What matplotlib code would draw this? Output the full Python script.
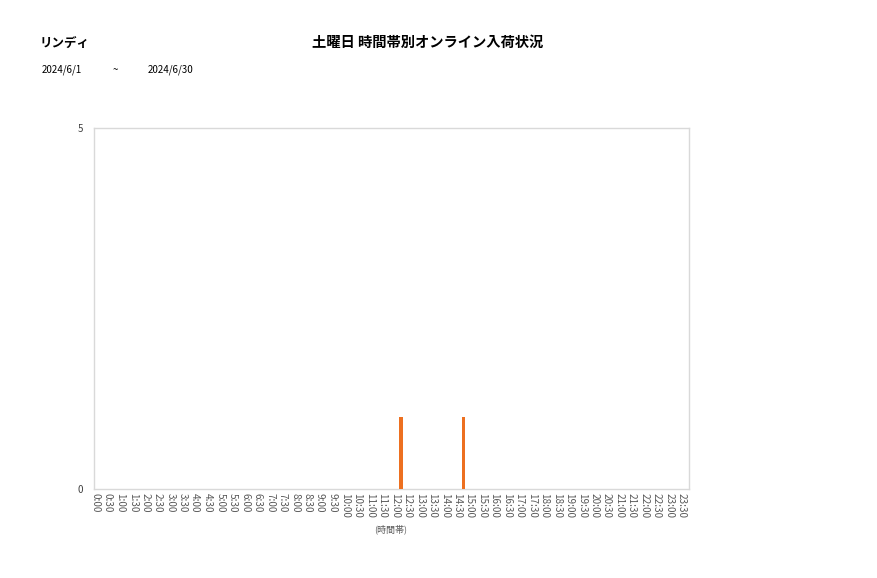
import matplotlib
matplotlib.use("Agg")
import matplotlib.pyplot as plt

plt.rcParams['font.family'] = ['Noto Sans CJK JP', 'DejaVu Sans']

store_name = "リンディ"
chart_title = "土曜日 時間帯別オンライン入荷状況"
date_from = "2024/6/1"
date_sep = "~"
date_to = "2024/6/30"
x_label = "(時間帯)"

time_slots = [f"{h}:{m:02d}" for h in range(24) for m in (0, 30)]
values = [0] * 48
values[time_slots.index("12:00")] = 1
values[time_slots.index("14:30")] = 1

W, H = 877, 578
fig = plt.figure(figsize=(W / 100, H / 100), dpi=100)
left, right, top, bottom = 94, 688.5, 128, 489
ax = fig.add_axes([left / W, 1 - bottom / H, (right - left) / W, (bottom - top) / H])

xs = [i + 0.5 for i in range(len(time_slots))]
ax.bar(xs, values, width=0.26, color="#ED7020", zorder=3)

ax.set_xlim(-0.12, 47.55)
ax.set_ylim(0, 5)
ax.set_yticks([0, 5])
ax.set_yticklabels(["0", "5"], fontsize=7, color="#404040")
ax.set_xticks(range(len(time_slots)))
ax.set_xticklabels(time_slots, rotation=-90, fontsize=7.2, color="#595959")
ax.tick_params(axis="both", length=0, pad=3)
ax.tick_params(axis="y", pad=8)
for s in ax.spines.values():
    s.set_color("#d9d9d9")
    s.set_linewidth(1.0)

fig.text(40 / W, 1 - 43 / H, store_name, fontsize=9, va="center", ha="left", color="#000000", fontweight="bold")
fig.text(428 / W, 1 - 43 / H, chart_title, fontsize=10.3, va="center", ha="center", color="#000000", fontweight="bold")
fig.text(42 / W, 1 - 70 / H, date_from, fontsize=7, va="center", ha="left")
fig.text(115 / W, 1 - 70 / H, date_sep, fontsize=7, va="center", ha="center")
fig.text(148 / W, 1 - 70 / H, date_to, fontsize=7, va="center", ha="left")
fig.text(391 / W, 1 - 529 / H, x_label, fontsize=6.5, va="center", ha="center", color="#595959")

fig.savefig("out.png", dpi=100)
